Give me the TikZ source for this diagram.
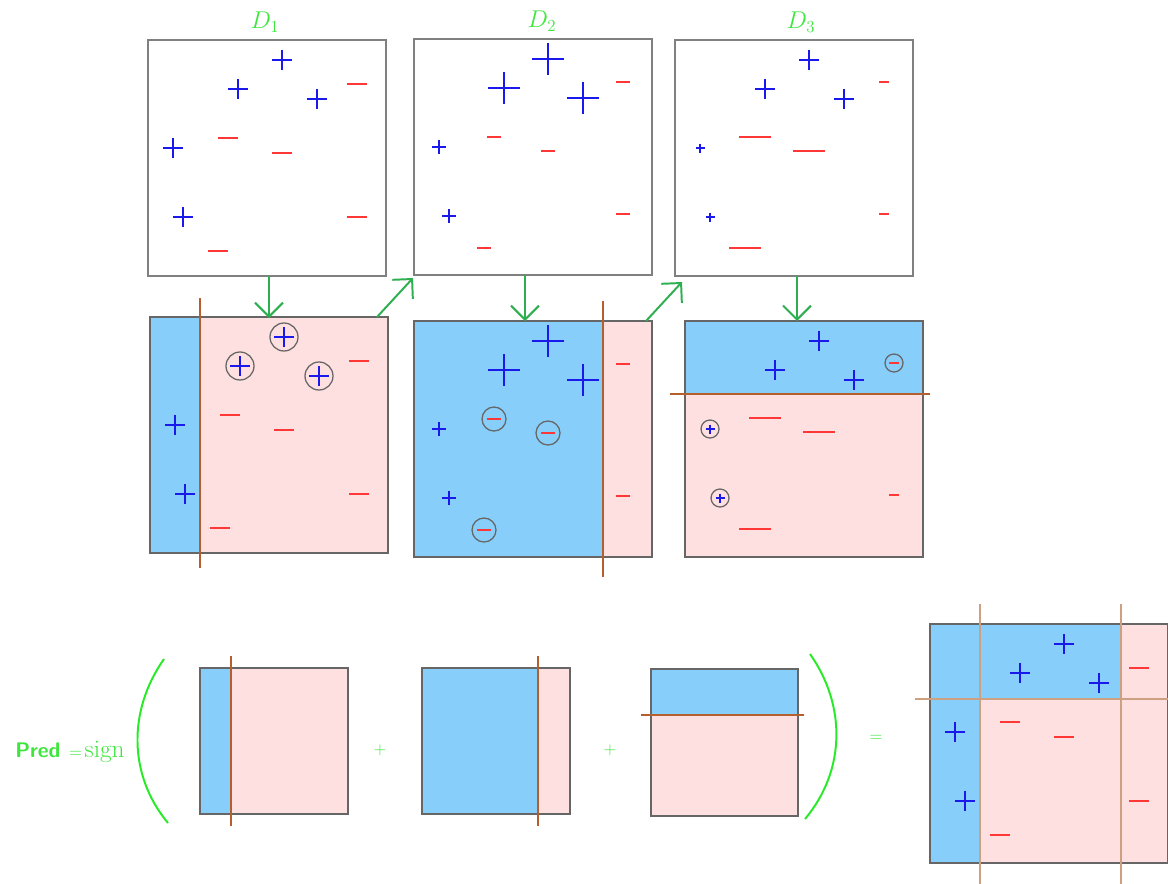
\documentclass[tikz,border=0pt]{standalone}
\usetikzlibrary{arrows.meta}
\definecolor{skyb}{RGB}{135,206,250}
\definecolor{pinkf}{RGB}{255,224,224}
\definecolor{plusb}{RGB}{25,25,235}
\definecolor{minr}{RGB}{255,55,55}
\definecolor{brn}{RGB}{180,95,45}
\definecolor{tanl}{RGB}{205,160,130}
\definecolor{lblg}{RGB}{60,230,60}
\definecolor{arrg}{RGB}{45,175,80}
\definecolor{parg}{RGB}{40,235,40}
\newcommand\PP[3]{\draw[plusst] (#1-#3,#2) -- (#1+#3,#2) (#1,#2-#3) -- (#1,#2+#3);}
\newcommand\MM[3]{\draw[minst] (#1-#3,#2) -- (#1+#3,#2);}
\newcommand\RR[3]{\draw[ring] (#1,#2) circle[radius=#3];}
\tikzset{
 plusst/.style={draw=plusb, line width=1.4pt},
 minst/.style={draw=minr, line width=1.4pt},
 ring/.style={draw=black!60, line width=0.9pt},
 topbox/.style={draw=black!50, line width=1pt},
 colbox/.style={draw=black!60, line width=1pt},
 split/.style={draw=brn, line width=1.2pt},
 splitlight/.style={draw=tanl, line width=0.9pt},
 flow/.style={draw=arrg, line width=1.4pt, -{Straight Barb[length=3.5mm,width=7mm]}},
 paren/.style={draw=parg, line width=1.4pt},
 lbl/.style={text=lblg, inner sep=0pt, font=\fontsize{17}{20}\selectfont},
 gsym/.style={text=lblg, inner sep=0pt, font=\fontsize{13}{15}\selectfont},
}
\begin{document}
\begin{tikzpicture}[x=0.025cm,y=-0.025cm]
\useasboundingbox (0,0) rectangle (1168,883);
% ---------- top row ----------
\node[lbl] (l1) at (265,22) {$D_1$};
\node[lbl] (l2) at (542,21) {$D_2$};
\node[lbl] (l3) at (801,22) {$D_3$};
\begin{scope}[shift={(148,40)}]
 \draw[topbox] (0,0) rectangle (238,236);
 \PP{134}{20}{10}\PP{90}{49}{10}\PP{169}{59}{10}\PP{25}{108}{10}\PP{35}{177}{10}
 \MM{209}{44}{10}\MM{80}{98}{10}\MM{134}{113}{10}\MM{209}{177}{10}\MM{70}{211}{10}
\end{scope}
\begin{scope}[shift={(414,39)}]
 \draw[topbox] (0,0) rectangle (238,236);
 \PP{134}{20}{16}\PP{90}{49}{16}\PP{169}{59}{16}\PP{25}{108}{7}\PP{35}{177}{7}
 \MM{209}{43}{7}\MM{80}{98}{7}\MM{134}{112}{7}\MM{209}{175}{7}\MM{70}{209}{7}
\end{scope}
\begin{scope}[shift={(675,40)}]
 \draw[topbox] (0,0) rectangle (238,236);
 \PP{134}{20}{10}\PP{90}{49}{10}\PP{169}{59}{10}\PP{25}{108}{4.5}\PP{35}{177}{4.5}
 \MM{209}{42}{5}\MM{80}{97}{16}\MM{134}{111}{16}\MM{209}{174}{5}\MM{70}{208}{16}
\end{scope}
% ---------- middle row ----------
\begin{scope}[shift={(150,317)}]
 \fill[skyb] (0,0) rectangle (50,236);
 \fill[pinkf] (50,0) rectangle (238,236);
 \draw[colbox] (0,0) rectangle (238,236);
 \draw[split] (50,-19) -- (50,251);
 \PP{134}{20}{10}\PP{90}{49}{10}\PP{169}{59}{10}\PP{25}{108}{10}\PP{35}{177}{10}
 \RR{134}{20}{14}\RR{90}{49}{14}\RR{169}{59}{14}
 \MM{209}{44}{10}\MM{80}{98}{10}\MM{134}{113}{10}\MM{209}{177}{10}\MM{70}{211}{10}
\end{scope}
\begin{scope}[shift={(414,321)}]
 \fill[skyb] (0,0) rectangle (189,236);
 \fill[pinkf] (189,0) rectangle (238,236);
 \draw[colbox] (0,0) rectangle (238,236);
 \draw[split] (189,-20) -- (189,256);
 \PP{134}{20}{16}\PP{90}{49}{16}\PP{169}{59}{16}\PP{25}{108}{7}\PP{35}{177}{7}
 \MM{209}{43}{7}\MM{80}{98}{7}\MM{134}{112}{7}\MM{209}{175}{7}\MM{70}{209}{7}
 \RR{80}{98}{12}\RR{134}{112}{12}\RR{70}{209}{12}
\end{scope}
\begin{scope}[shift={(685,321)}]
 \fill[skyb] (0,0) rectangle (238,73);
 \fill[pinkf] (0,73) rectangle (238,236);
 \draw[colbox] (0,0) rectangle (238,236);
 \draw[split] (-15,73) -- (245,73);
 \PP{134}{20}{10}\PP{90}{49}{10}\PP{169}{59}{10}\PP{25}{108}{4.5}\PP{35}{177}{4.5}
 \MM{209}{42}{5}\MM{80}{97}{16}\MM{134}{111}{16}\MM{209}{174}{5}\MM{70}{208}{16}
 \RR{209}{42}{9}\RR{25}{108}{9}\RR{35}{177}{9}
\end{scope}
% ---------- arrows ----------
\coordinate (a1s) at (269,276); \coordinate (a1e) at (269,318);
\coordinate (a2s) at (377,317); \coordinate (a2e) at (413,278);
\coordinate (a3s) at (525,275); \coordinate (a3e) at (525,321);
\coordinate (a4s) at (646,321); \coordinate (a4e) at (682,282);
\coordinate (a5s) at (797,276); \coordinate (a5e) at (797,321);
\draw[flow] (a1s) -- (a1e);
\draw[flow] (a2s) -- (a2e);
\draw[flow] (a3s) -- (a3e);
\draw[flow] (a4s) -- (a4e);
\draw[flow] (a5s) -- (a5e);
% ---------- bottom row ----------
\node[anchor=base west, text=lblg, inner sep=0pt] (pred) at (15,757)
 {{\fontsize{15}{18}\selectfont\sffamily\bfseries Pred}\hspace{6pt}{\fontsize{13}{15}\selectfont$=$}\hspace{2pt}{\fontsize{18}{20}\selectfont sign}};
\coordinate (lp1) at (164,659); \coordinate (lp2) at (168,823);
\draw[paren] (lp1) .. controls (128,710) and (128,775) .. (lp2);
\begin{scope}[shift={(200,668)}]
 \fill[skyb] (0,0) rectangle (31,146);
 \fill[pinkf] (31,0) rectangle (148,146);
 \draw[colbox] (0,0) rectangle (148,146);
 \draw[split] (31,-12) -- (31,158);
\end{scope}
\node[gsym] (plus1) at (380,750) {$+$};
\begin{scope}[shift={(422,668)}]
 \fill[skyb] (0,0) rectangle (116,146);
 \fill[pinkf] (116,0) rectangle (148,146);
 \draw[colbox] (0,0) rectangle (148,146);
 \draw[split] (116,-12) -- (116,158);
\end{scope}
\node[gsym] (plus2) at (610,750) {$+$};
\begin{scope}[shift={(651,669)}]
 \fill[skyb] (0,0) rectangle (147,46);
 \fill[pinkf] (0,46) rectangle (147,147);
 \draw[colbox] (0,0) rectangle (147,147);
 \draw[split] (-10,46) -- (153,46);
\end{scope}
\coordinate (rp1) at (810,654); \coordinate (rp2) at (805,819);
\draw[paren] (rp1) .. controls (846,705) and (846,770) .. (rp2);
\node[gsym] (eq) at (876,738) {$=$};
% ---------- final combined ----------
\begin{scope}[shift={(930,624)}]
 \fill[skyb] (0,0) rectangle (50,239);
 \fill[skyb] (50,0) rectangle (191,75);
 \fill[pinkf] (50,75) rectangle (238,239);
 \fill[pinkf] (191,0) rectangle (238,75);
 \draw[colbox] (0,0) rectangle (237.5,239);
 \draw[splitlight] (50,-20) -- (50,262);
 \draw[splitlight] (191,-20) -- (191,262);
 \draw[splitlight] (-15,75) -- (240,75);
 \PP{134}{20}{10}\PP{90}{49}{10}\PP{169}{59}{10}\PP{25}{108}{10}\PP{35}{177}{10}
 \MM{209}{44}{10}\MM{80}{98}{10}\MM{134}{113}{10}\MM{209}{177}{10}\MM{70}{211}{10}
\end{scope}
\end{tikzpicture}
\end{document}
